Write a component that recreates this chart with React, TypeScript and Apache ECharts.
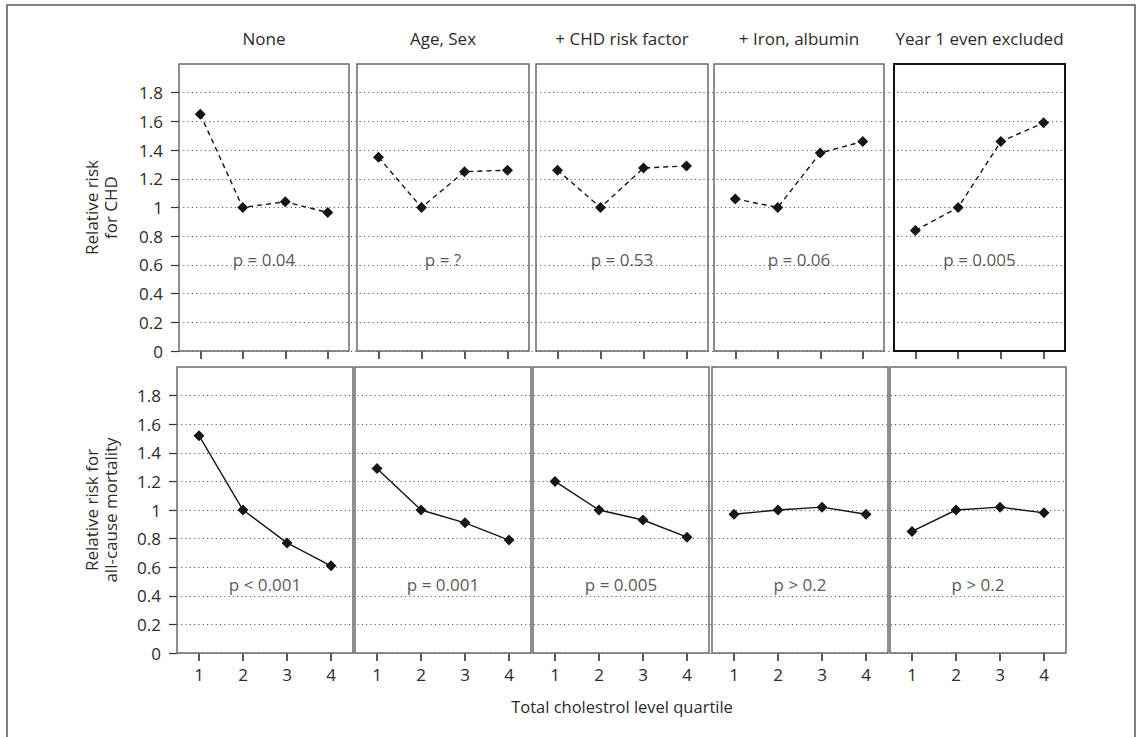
import React, { useEffect, useRef } from "react";
import * as echarts from "echarts";

const quartiles = [1, 2, 3, 4];
const panelTitles = ["None", "Age, Sex", "+ CHD risk factor", "+ Iron, albumin", "Year 1 even excluded"];
const chdRisk = [
  [1.65, 1.0, 1.04, 0.965],
  [1.35, 1.0, 1.25, 1.26],
  [1.26, 1.0, 1.275, 1.29],
  [1.06, 1.0, 1.38, 1.46],
  [0.84, 1.0, 1.46, 1.59],
];
const mortalityRisk = [
  [1.52, 1.0, 0.77, 0.61],
  [1.29, 1.0, 0.91, 0.79],
  [1.2, 1.0, 0.93, 0.81],
  [0.97, 1.0, 1.02, 0.97],
  [0.85, 1.0, 1.02, 0.98],
];
const chdP = ["p = 0.04", "p = ?", "p = 0.53", "p = 0.06", "p = 0.005"];
const mortP = ["p < 0.001", "p = 0.001", "p = 0.005", "p > 0.2", "p > 0.2"];
const chdPLevel = 0.64;
const mortPLevel = 0.48;
const rowNames = ["Relative risk\nfor CHD", "Relative risk for\nall-cause mortality"];
const xTitle = "Total cholestrol level quartile";

const FONT = "'Open Sans', 'Noto Sans', sans-serif";
const TXT = "#2b2b2b";

// layout (pixels)
const rows = [
  { top: 64, bottom: 351, panels: [[179, 349], [357, 529], [536, 708], [714, 884], [894, 1065]] },
  { top: 367, bottom: 653, panels: [[177, 353], [355, 531], [533, 709], [712, 888], [890, 1066]] },
];

export default function App() {
  const ref = useRef<HTMLDivElement>(null);
  useEffect(() => {
    document.body.style.margin = "0";
    const chart = echarts.init(ref.current!, null, { renderer: "svg" });
    const grid: any[] = [];
    const xAxis: any[] = [];
    const yAxis: any[] = [];
    const series: any[] = [];
    const graphic: any[] = [];

    rows.forEach((row, r) => {
      const h = row.bottom - row.top;
      const left = row.panels[0][0];
      const right = row.panels[4][1];
      const bgIdx = grid.length;
      grid.push({ left, top: row.top + h * 0.1, width: right - left, height: h * 0.9, show: false });
      xAxis.push({ gridIndex: bgIdx, type: "value", show: false, min: 0, max: 1 });
      yAxis.push({
        gridIndex: bgIdx,
        type: "value",
        min: 0,
        max: 1.8,
        interval: 0.2,
        axisLine: { show: false },
        axisTick: { show: true, length: 8, lineStyle: { color: "#333", width: 1.2 } },
        axisLabel: { margin: 16, fontSize: 17, color: TXT, fontFamily: FONT },
        splitLine: { show: true, lineStyle: { type: [1, 3.3], color: "#444", width: 1 } },
      });
      const data = r === 0 ? chdRisk : mortalityRisk;
      const pTexts = r === 0 ? chdP : mortP;
      const pLevel = r === 0 ? chdPLevel : mortPLevel;
      row.panels.forEach(([pl, pr], p) => {
        const gi = grid.length;
        const strong = r === 0 && p === 4;
        grid.push({
          left: pl,
          top: row.top,
          width: pr - pl,
          height: h,
          show: true,
          backgroundColor: "transparent",
          borderColor: strong ? "#111" : "#6a6a6a",
          borderWidth: strong ? 2 : 1.5,
          z: 3,
        });
        xAxis.push({
          gridIndex: gi,
          type: "value",
          min: 0.5,
          max: 4.5,
          axisLine: { show: false },
          axisTick: { show: true, length: 8, customValues: quartiles, lineStyle: { color: "#222", width: 1.5 } },
          axisLabel: {
            show: r === 1,
            customValues: quartiles,
            margin: 13,
            fontSize: 17,
            color: TXT,
            fontFamily: FONT,
          },
          splitLine: { show: false },
        });
        yAxis.push({ gridIndex: gi, type: "value", min: 0, max: 2, show: false, splitLine: { show: false } });
        series.push({
          type: "line",
          xAxisIndex: gi,
          yAxisIndex: gi,
          data: quartiles.map((q, i) => [q, data[p][i]]),
          symbol: "diamond",
          symbolSize: 11,
          showSymbol: true,
          itemStyle: { color: "#151515" },
          lineStyle: { color: "#151515", width: 1.4, type: r === 0 ? [5, 4] : "solid" },
          z: 5,
        });
        series.push({
          type: "scatter",
          xAxisIndex: gi,
          yAxisIndex: gi,
          data: [[2.5, pLevel]],
          symbolSize: 0,
          silent: true,
          itemStyle: { color: TXT },
          label: {
            show: true,
            position: "inside",
            formatter: pTexts[p],
            fontSize: 17,
            color: TXT,
            textBorderWidth: 0,
            textBorderColor: "transparent",
            fontFamily: FONT,
          },
          z: 4,
        });
        if (r === 0) {
          graphic.push({
            type: "text",
            x: (pl + pr) / 2,
            y: 38,
            style: {
              text: panelTitles[p],
              fill: TXT,
              font: `17px ${FONT}`,
              textAlign: "center",
              textVerticalAlign: "middle",
            },
          });
        }
      });
      graphic.push({
        type: "text",
        x: 101,
        y: (row.top + row.bottom) / 2,
        rotation: Math.PI / 2,
        style: {
          text: rowNames[r],
          fill: TXT,
          font: `17px ${FONT}`,
          lineHeight: 19,
          textAlign: "center",
          textVerticalAlign: "middle",
        },
      });
    });

    graphic.push({
      type: "text",
      x: 622,
      y: 706,
      style: { text: xTitle, fill: TXT, font: `16.5px ${FONT}`, textAlign: "center", textVerticalAlign: "middle" },
    });
    graphic.push({
      type: "rect",
      shape: { x: 7, y: 5, width: 1128, height: 745 },
      style: { fill: "none", stroke: "#555", lineWidth: 1.5 },
      silent: true,
    });

    chart.setOption({ animation: false, grid, xAxis, yAxis, series, graphic });
    return () => chart.dispose();
  }, []);
  return <div ref={ref} style={{ width: 1140, height: 737 }} />;
}
